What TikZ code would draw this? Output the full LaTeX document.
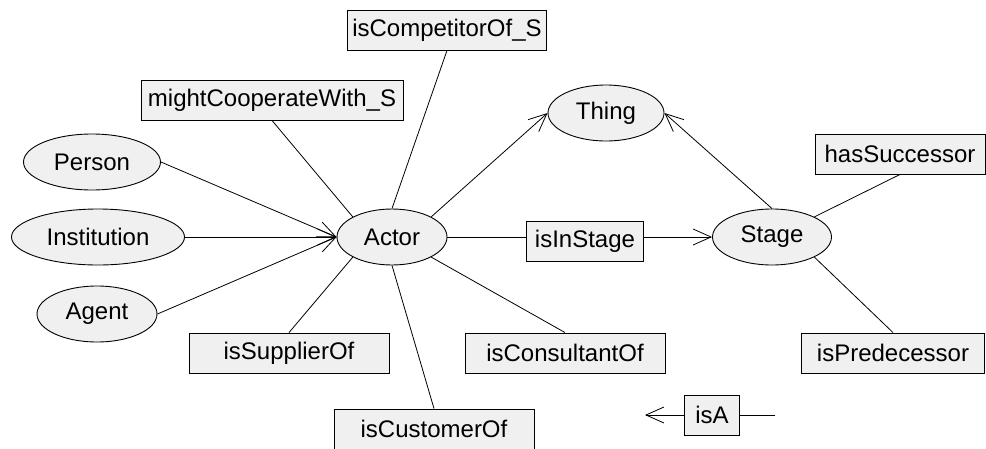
\documentclass[tikz,border=0pt]{standalone}
\usepackage{fontspec}
\setmainfont{Liberation Sans}
\usetikzlibrary{arrows.meta,shapes.geometric}
\colorlet{shapefill}{black!6}
\tikzset{
  concept/.style={ellipse,draw,fill=shapefill,line width=0.9pt,minimum height=56pt,inner sep=0pt,font=\fontsize{24}{28}\selectfont},
  relation/.style={rectangle,draw,fill=shapefill,line width=0.9pt,minimum height=40pt,inner sep=0pt,font=\fontsize{24}{28}\selectfont},
  link/.style={line width=0.8pt},
  isa/.style={link,-{Straight Barb[length=18pt,width=16pt,line width=0.8pt]}}
}

\begin{document}
\begin{tikzpicture}[x=1pt,y=-1pt]
\useasboundingbox (0,0) rectangle (986,448);
% concepts
\node[concept,minimum width=137pt] (person) at (92,162) {Person};
\node[concept,minimum width=173pt] (institution) at (98,237) {Institution};
\node[concept,minimum width=120pt] (agent) at (97,314) {Agent};
\node[concept,minimum width=110pt] (actor) at (392,237) {Actor};
\node[concept,minimum width=116pt] (thing) at (606,113) {Thing};
\node[concept,minimum width=119pt] (stage) at (772,237) {Stage};
% relations
\node[relation,minimum width=199pt] (competitor) at (447,30) {isCompetitorOf\_S};
\node[relation,minimum width=262pt] (cooperate) at (272,100) {mightCooperateWith\_S};
\node[relation,minimum width=117pt] (instage) at (585,241) {isInStage};
\node[relation,minimum width=200pt] (supplier) at (289,353) {isSupplierOf};
\node[relation,minimum width=200pt] (consultant) at (565,353) {isConsultantOf};
\node[relation,minimum width=200pt] (customer) at (434,429) {isCustomerOf};
\node[relation,minimum width=170pt] (successor) at (900,154) {hasSuccessor};
\node[relation,minimum width=183pt] (predecessor) at (893,353) {isPredecessor};
% legend
\node[relation,minimum width=55pt] (isa) at (712,415) {isA};
\coordinate (isaleft) at (645,415);
\coordinate (isaright) at (775,415);

\draw[isa] (person.east) -- (actor.west);
\draw[isa] (institution.east) -- (actor.west);
\draw[isa] (agent.east) -- (actor.west);
\draw[isa] (actor.north east) -- (thing.west);
\draw[isa] (stage.north) -- (thing.east);
\draw[link] (actor.east) -- (actor.east -| instage.west);
\draw[isa] (stage.west -| instage.east) -- (stage.west);
\draw[link] (actor.north) -- (competitor.south);
\draw[link] (actor.north west) -- (cooperate.south);
\draw[link] (actor.south west) -- (supplier.north);
\draw[link] (actor.south) -- (customer.north);
\draw[link] (actor.south east) -- (consultant.north);
\draw[link] (stage.north east) -- (successor.south);
\draw[link] (stage.south east) -- (predecessor.north);
\draw[isa] (isa.west) -- (isaleft);
\draw[link] (isa.east) -- (isaright);
\end{tikzpicture}
\end{document}
